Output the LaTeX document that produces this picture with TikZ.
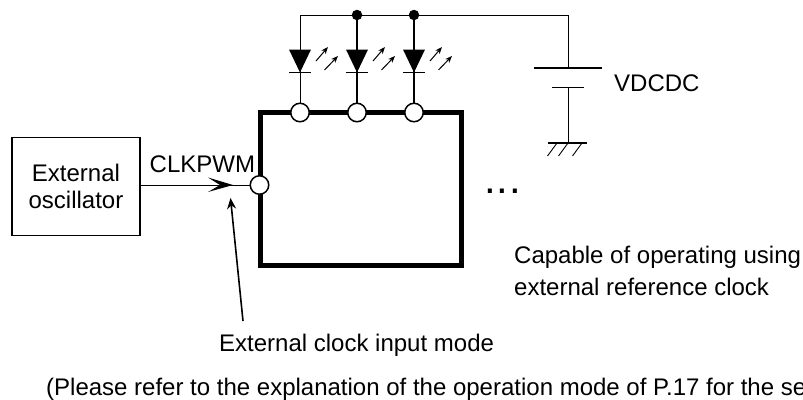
\documentclass[tikz,border=0pt]{standalone}
\usepackage{fontspec}
\setmainfont{Liberation Sans}
\usetikzlibrary{arrows.meta}
\tikzset{
  px/.style={x=1pt,y=-1pt},
  wire/.style={draw=black,line width=1pt},
  thick wire/.style={draw=black,line width=2.4pt},
  lbl/.style={inner sep=0pt,font=\fontsize{24}{28}\selectfont,anchor=base west},
  pin/.style={circle,draw=black,fill=white,line width=1.5pt,minimum size=18.5pt,inner sep=0pt},
  dot/.style={circle,fill=black,minimum size=10.5pt,inner sep=0pt},
  ledtri/.style={fill=black},
  lightarrow/.style={line width=1pt,-{Stealth[length=7pt,width=5.5pt]}},
  box/.style={draw=black,line width=1.9pt},
}
\newcommand{\ledmark}[1]{%
  \fill[ledtri] (#1-11,49.5) -- (#1+11,49.5) -- (#1,72.5) -- cycle;
  \draw[line width=1pt] (#1-11,72.8) -- (#1+11,72.8);
  \draw[lightarrow] (#1+16,61) -- (#1+28,47);
  \draw[lightarrow] (#1+24.5,70) -- (#1+38,56);
}
\begin{document}
\begin{tikzpicture}[px]
\useasboundingbox (0,0) rectangle (803,399);
\clip (0,0) rectangle (803,399);
% nodes
\coordinate (wireL) at (300,15);
\node[dot] (d2) at (357,15) {};
\node[dot] (d3) at (414,15) {};
\coordinate (batTop) at (568,15);
\coordinate (plateA) at (568,68);
\coordinate (plateB) at (568,87);
\coordinate (gnd) at (568,143);
% chip
\draw[line width=5pt,miter limit=10] (260.5,112.5) rectangle (461,265.5);
\node[pin] (p1) at (300,112.5) {};
\node[pin] (p2) at (357,112.5) {};
\node[pin] (p3) at (414,112.5) {};
\node[pin] (pc) at (259.5,185) {};
% power wires
\draw[wire] (wireL) -- (d2) -- (d3) -- (batTop) -- (plateA);
\draw[wire] (wireL) -- (p1);
\draw[thick wire] (d2) -- (p2);
\draw[thick wire] (d3) -- (p3);
\ledmark{300}
\ledmark{357}
\ledmark{414}
% battery
\draw[line width=1.2pt] (534,68) -- (602,68);
\draw[line width=1.2pt] (552,87.5) -- (584,87.5);
\draw[wire] (plateB) -- (gnd);
\draw[line width=1.2pt] (548,143) -- (587,143);
\foreach \gx in {557,568,582}{\draw[line width=0.9pt] (\gx,143) -- (\gx-9.5,156);}
% oscillator
\node[box,minimum width=128pt,minimum height=98pt,inner sep=0pt,anchor=north west,align=center,font=\fontsize{24}{27.7}\selectfont] (osc) at (11,136.5) {External\\oscillator};
\draw[wire] (osc.east |- pc) -- (pc.west);
\fill (208,177.5) -- (233,185) -- (208,192) -- (220,185) -- cycle;
\coordinate (clkEnd) at (243,321);
\coordinate (clkTip) at (230.5,198);
\draw[line width=1.6pt,-{Stealth[length=11pt,width=9pt]}] (clkEnd) -- (clkTip);
% labels
\node[lbl] (tclk) at (149.5,172.5) {CLKPWM};
\node[lbl] (tv) at (614,91) {VDCDC};
\node[inner sep=0pt,anchor=base,font=\fontsize{42}{42}\selectfont] (dots) at (502.5,193) {.\kern1pt.\kern1pt.};
\node[lbl] (t1) at (514,263.3) {Capable of operating using};
\node[lbl] (t2) at (514,295) {external reference clock};
\node[lbl] (t3) at (219,351.5) {External clock input mode};
\node[lbl] (t4) at (46,395) {(Please refer to the explanation of the operation mode of P.17 for the setting)};
\end{tikzpicture}
\end{document}
